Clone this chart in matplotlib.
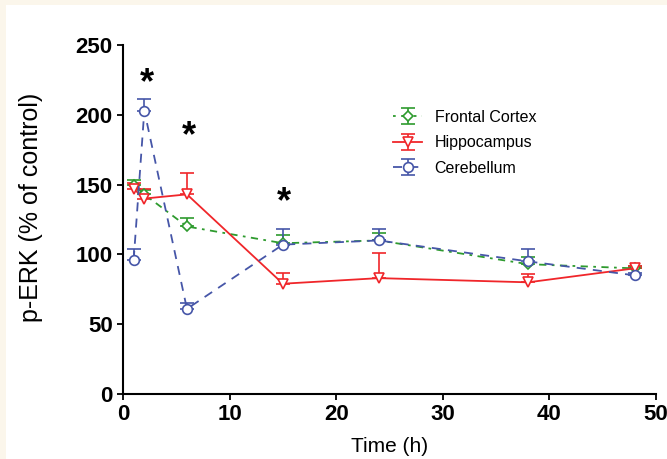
import matplotlib
matplotlib.use("Agg")
import matplotlib.pyplot as plt
from matplotlib.patches import Rectangle

plt.rcParams['font.family'] = ['Liberation Sans', 'DejaVu Sans']

time_h = [1, 2, 6, 15, 24, 38, 48]
frontal = [150, 143, 120, 108, 110, 93, 90]
frontal_err = [3, 3, 6, 6, 5, 5, 2]
hippo = [147, 140, 143, 79, 83, 80, 90]
hippo_err = [4, 7, 15, 8, 18, 6, 2]
cereb = [96, 203, 61, 107, 110, 95, 85]
cereb_err = [8, 8, 4, 11, 8, 9, 2]
star_x = [2.2, 6.2, 15.1]
star_y = [222, 184, 137]

fig = plt.figure(figsize=(6.67, 4.59), dpi=100, facecolor='#FBF6EB')
bg = Rectangle((6/667, 0), 1, 1 - 5/459, transform=fig.transFigure,
               facecolor='white', edgecolor='none', zorder=-10)
fig.add_artist(bg)
ax = fig.add_axes([123/667, (459-394)/459, (656-123)/667, (394-45)/459])
ax.set_zorder(5)
ax.set_facecolor('white')

green = '#2E9B2E'
red = '#F0262A'
blue = '#4656A8'

ax.errorbar(time_h, frontal, yerr=[[0]*7, frontal_err], color=green, linestyle=(0, (1.5, 3, 4, 3)),
            lw=1.3, marker='D', ms=5, mfc='white', mec=green, mew=1.2, capsize=5, elinewidth=1.2,
            label='Frontal Cortex', zorder=3)
ax.errorbar(time_h, hippo, yerr=[[0]*7, hippo_err], color=red, linestyle='-',
            lw=1.3, marker='v', ms=7, mfc='white', mec=red, mew=1.2, capsize=5, elinewidth=1.2,
            label='Hippocampus', zorder=3)
ax.errorbar(time_h, cereb, yerr=[[0]*7, cereb_err], color=blue, linestyle=(0, (5, 4)),
            lw=1.3, marker='o', ms=7, mfc='white', mec=blue, mew=1.2, capsize=5, elinewidth=1.2,
            label='Cerebellum', zorder=3)

for sx, sy in zip(star_x, star_y):
    ax.text(sx, sy, '*', fontsize=26, fontweight='bold', ha='center', va='center')

ax.set_xlim(0, 50)
ax.set_ylim(0, 250)
ax.set_xticks([0, 10, 20, 30, 40, 50])
ax.set_yticks([0, 50, 100, 150, 200, 250])
for s in ['top', 'right']:
    ax.spines[s].set_visible(False)
for s in ['left', 'bottom']:
    ax.spines[s].set_linewidth(1.5)
ax.tick_params(direction='out', length=4, width=1.3, labelsize=16)
for lab in ax.get_xticklabels() + ax.get_yticklabels():
    lab.set_fontweight('bold')
ax.set_xlabel('Time (h)', fontsize=15, labelpad=8)
ax.set_ylabel('p-ERK (% of control)', fontsize=18)
ax.yaxis.set_label_coords(-(123 - 43) / 533, (394 - 207) / 349)

ax.legend(loc='upper left', bbox_to_anchor=(0.48, 0.855), frameon=False, fontsize=11.5,
          handlelength=1.8, labelspacing=0.65)

fig.savefig('out.png', dpi=100, facecolor=fig.get_facecolor())
